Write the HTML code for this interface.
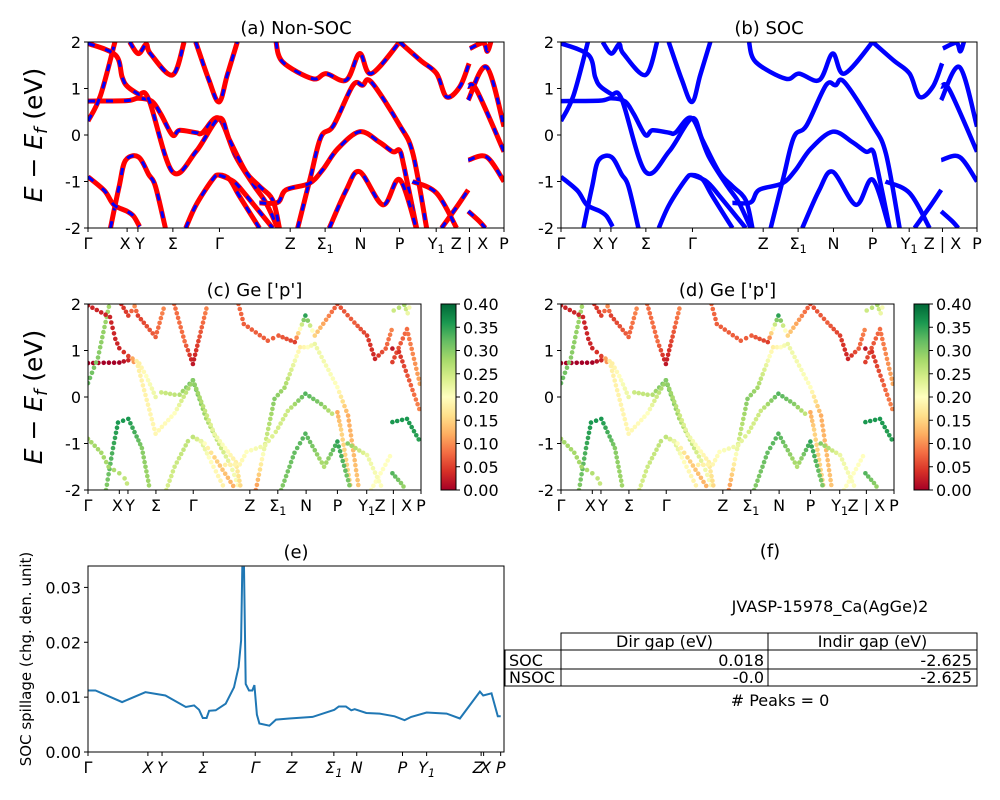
<!DOCTYPE html>
<html><head><meta charset="utf-8"><style>
html,body{margin:0;padding:0;background:#fff;}
svg{display:block;font-family:"DejaVu Sans","Liberation Sans",sans-serif;}
</style></head><body>
<svg id="fig" width="1000" height="800" viewBox="0 0 1000 800" xmlns="http://www.w3.org/2000/svg">
<defs>
<linearGradient id="rdylgn" x1="0" y1="1" x2="0" y2="0">
<stop offset="0" stop-color="#a50026"/><stop offset="0.1" stop-color="#d73027"/><stop offset="0.2" stop-color="#f46d43"/><stop offset="0.3" stop-color="#fdae61"/><stop offset="0.4" stop-color="#fee08b"/><stop offset="0.5" stop-color="#ffffbf"/><stop offset="0.6" stop-color="#d9ef8b"/><stop offset="0.7" stop-color="#a6d96a"/><stop offset="0.8" stop-color="#66bd63"/><stop offset="0.9" stop-color="#1a9850"/><stop offset="1" stop-color="#006837"/>
</linearGradient>
</defs>
</svg>
<script>
// ---- band structure data: [k (path fraction), E (eV)] ----
const kTickPos = [0,0.094,0.12,0.204,0.316,0.486,0.57,0.655,0.749,0.837,0.917,1];
const kTickLab = ["Γ","X","Y","Σ","Γ","Z","Σ1","N","P","Y1","Z | X","P"];
const bandA = [[0,0.73],[0.094,0.74],[0.121,0.79],[0.154,0.72],[0.175,0.45],[0.203,0.0],[0.22,0.1],[0.26,0.05],[0.275,0.05],[0.315,0.36],[0.355,-0.46],[0.4,-1.1],[0.428,-1.46],[0.456,-2.0]];
const bandB = [[0,0.3],[0.03,0.85],[0.066,2.05]];
const bandC = [[0,1.97],[0.066,1.72],[0.082,1.25],[0.094,1.05],[0.121,0.88],[0.146,0.77],[0.203,-0.79],[0.26,-0.35],[0.315,0.36],[0.34,-0.1],[0.38,-0.8],[0.412,-1.1],[0.444,-1.4],[0.46,-2.0]];
const bandD = [[0.054,-2],[0.075,-1.1],[0.09,-0.55],[0.121,-0.47],[0.146,-0.85],[0.162,-1.1],[0.186,-2]];
const bandE = [[0,-0.9],[0.04,-1.2],[0.062,-1.5],[0.094,-1.64],[0.11,-1.75],[0.124,-1.97]];
const bandF = [[0.235,-2],[0.26,-1.5],[0.3,-0.95],[0.315,-0.86],[0.34,-0.95],[0.363,-1.3],[0.412,-2]];
const bandF2 = [[0.315,-0.86],[0.35,-1.0],[0.38,-1.3],[0.444,-2]];
const bandG = [[0.259,2],[0.29,1.2],[0.315,0.71],[0.335,1.3],[0.359,2]];
const bandH = [[0.1,2],[0.121,1.75],[0.14,1.95],[0.15,1.75],[0.203,1.29],[0.231,2]];
const bandI = [[0.452,2],[0.468,1.57],[0.54,1.21],[0.572,1.32],[0.621,1.18],[0.653,1.75],[0.681,1.32],[0.749,2]];
const bandJ = [[0.504,-2],[0.535,-0.9],[0.56,-0.04],[0.59,0.2],[0.637,1.07],[0.66,1.07],[0.681,1.14],[0.749,0.21],[0.781,-0.4],[0.814,-2]];
const bandK = [[0.412,-1.46],[0.456,-1.45],[0.476,-1.18],[0.532,-1.04],[0.564,-0.75],[0.6,-0.3],[0.653,0.07],[0.7,-0.15],[0.733,-0.36],[0.749,-0.33],[0.76,-0.7],[0.79,-2]];
const bandL = [[0.58,-2],[0.62,-1.2],[0.653,-0.79],[0.709,-1.5],[0.749,-0.96],[0.789,-2]];
const bandM = [[0.749,2],[0.8,1.6],[0.838,1.32],[0.862,0.82],[0.894,1.04],[0.916,1.54]];
const bandM2 = [[0.918,1.86],[0.95,1.98],[0.96,1.8],[0.97,2.05]];
const bandN = [[0.914,0.75],[0.958,1.46],[1,0.18]];
const bandO = [[0.914,1.04],[0.934,0.97],[1,-0.36]];
const bandP = [[0.914,-0.54],[0.958,-0.47],[1,-1.0]];
const bandQ = [[0.85,-2],[0.886,-1.55],[0.914,-1.18]];
const bandR = [[0.78,-1.0],[0.838,-1.25],[0.886,-2]];
const bandS = [[0.914,-1.64],[0.94,-1.85],[0.955,-2]];
const bands = [bandA,bandB,bandC,bandD,bandE,bandF,bandF2,bandG,bandH,bandI,bandJ,bandK,bandL,bandM,bandM2,bandN,bandO,bandP,bandQ,bandR,bandS];
// Ge p-orbital projection weights per vertex
const wA = [0,0,0.03,0.18,0.2,0.22,0.25,0.26,0.27,0.33,0.28,0.25,0.22,0.2];
const wB = [0.32,0.3,0.28];
const wC = [0.03,0.03,0.03,0.03,0.05,0.18,0.19,0.2,0.3,0.27,0.22,0.2,0.18,0.15];
const wD = [0.3,0.34,0.36,0.36,0.33,0.3,0.28];
const wE = [0.28,0.28,0.28,0.27,0.26,0.25];
const wF = [0.24,0.25,0.26,0.27,0.24,0.2,0.18];
const wF2 = [0.26,0.2,0.15,0.12];
const wG = [0.08,0.08,0.02,0.06,0.1];
const wH = [0.04,0.05,0.1,0.05,0.07,0.1];
const wI = [0.08,0.07,0.07,0.07,0.05,0.35,0.15,0.06];
const wJ = [0.1,0.25,0.3,0.28,0.18,0.2,0.22,0.2,0.12,0.14];
const wK = [0.18,0.19,0.2,0.22,0.24,0.25,0.33,0.3,0.26,0.12,0.15,0.15];
const wL = [0.3,0.32,0.33,0.27,0.35,0.3];
const wM = [0.06,0.07,0.05,0.03,0.07,0.1];
const wM2 = [0.25,0.28,0.22,0.2];
const wN = [0.05,0.08,0.12];
const wO = [0.02,0.04,0.1];
const wP = [0.36,0.36,0.35];
const wQ = [0.2,0.2,0.2];
const wR = [0.3,0.22,0.2];
const wS = [0.33,0.3,0.28];
const weights = [wA,wB,wC,wD,wE,wF,wF2,wG,wH,wI,wJ,wK,wL,wM,wM2,wN,wO,wP,wQ,wR,wS];
// ---- SOC spillage (e) ----
const spK = [0,0.018,0.082,0.138,0.186,0.235,0.255,0.267,0.276,0.285,0.291,0.307,0.331,0.351,0.362,0.368,0.371,0.375,0.379,0.387,0.395,0.4,0.406,0.412,0.436,0.452,0.484,0.54,0.592,0.603,0.62,0.633,0.641,0.669,0.701,0.737,0.761,0.777,0.814,0.862,0.894,0.942,0.95,0.97,0.985,0.992];
const spV = [0.0112,0.0112,0.0091,0.0109,0.0103,0.0082,0.0085,0.0077,0.0062,0.0062,0.0075,0.0076,0.0088,0.0118,0.0155,0.0203,0.0336,0.0336,0.0124,0.0112,0.0112,0.0122,0.0068,0.0052,0.0048,0.0059,0.0061,0.0064,0.0077,0.0083,0.0083,0.0076,0.0078,0.0071,0.007,0.0065,0.0058,0.0064,0.0072,0.007,0.0061,0.011,0.0103,0.0107,0.0065,0.0065];
const spTickPos = [0,0.144,0.178,0.277,0.402,0.49,0.591,0.646,0.756,0.814,0.945,0.951,0.992];
const spTickLab = ["Γ","X","Y","Σ","Γ","Z","Σ1","N","P","Y1","Z","X","P"];
const spYTicks = [0,0.01,0.02,0.03];
const tableHead = ["Dir gap (eV)","Indir gap (eV)"];
const tableRows = [["SOC","0.018","-2.625"],["NSOC","-0.0","-2.625"]];

const NS="http://www.w3.org/2000/svg";
const fig=document.getElementById('fig');
function el(tag,attrs,parent){const e=document.createElementNS(NS,tag);for(const k in attrs)e.setAttribute(k,attrs[k]);(parent||fig).appendChild(e);return e;}
function label(parent,x,y,str,size,anchor,italic){
  const t=el('text',{x:x,y:y,'font-size':size,'text-anchor':anchor||'middle','fill':'#000'},parent);
  if(italic)t.setAttribute('font-style','italic');
  const m=str.match(/^(.*?)(\d)(.*)$/);
  if(m && /[ΣY]/.test(m[1])){t.appendChild(document.createTextNode(m[1]));const s=el('tspan',{'font-size':size*0.7,dy:4},t);s.textContent=m[2];if(m[3]){const r=el('tspan',{dy:-4},t);r.textContent=m[3];}}
  else t.textContent=str;
  return t;
}
function smoothPath(P){
  if(P.length<3)return 'M'+P.map(p=>p[0].toFixed(1)+','+p[1].toFixed(1)).join(' L');
  let d='M'+P[0][0].toFixed(1)+','+P[0][1].toFixed(1);
  for(let i=0;i<P.length-1;i++){
    const p0=P[Math.max(0,i-1)],p1=P[i],p2=P[i+1],p3=P[Math.min(P.length-1,i+2)];
    const c1=[p1[0]+(p2[0]-p0[0])/6,p1[1]+(p2[1]-p0[1])/6],c2=[p2[0]-(p3[0]-p1[0])/6,p2[1]-(p3[1]-p1[1])/6];
    d+=' C'+c1.map(v=>v.toFixed(1)).join(',')+' '+c2.map(v=>v.toFixed(1)).join(',')+' '+p2[0].toFixed(1)+','+p2[1].toFixed(1);
  }
  return d;
}
function cmap(v){const st=["#a50026","#d73027","#f46d43","#fdae61","#fee08b","#ffffbf","#d9ef8b","#a6d96a","#66bd63","#1a9850","#006837"];
  let f=Math.max(0,Math.min(1,v/0.4))*10;const i=Math.min(9,Math.floor(f));const r=f-i;
  const a=st[i],b=st[i+1];const c=n=>[parseInt(n.substr(1,2),16),parseInt(n.substr(3,2),16),parseInt(n.substr(5,2),16)];
  const A=c(a),B=c(b);return 'rgb('+A.map((x,j)=>Math.round(x+(B[j]-x)*r)).join(',')+')';}
let clipId=0;
function bandAxes(name,x0,y0,w,h,title,mode){
  const g=el('g',{});
  const X=k=>x0+k*w, Y=e=>y0+h-(e+2)/4*h;
  const cid='clip'+(clipId++);const cp=el('clipPath',{id:cid},g);el('rect',{x:x0,y:y0,width:w,height:h},cp);
  const plot=el('g',{'clip-path':'url(#'+cid+')'},g);
  bands.forEach((b,bi)=>{
    const d=smoothPath(b.map(p=>[X(p[0]),Y(p[1])]));
    if(mode==='a'){
      const l=el('path',{d:d,fill:'none',stroke:'#ff0000','stroke-width':5,'stroke-linejoin':'round'},plot);
      
      el('path',{d:d,fill:'none',stroke:'#0000ff','stroke-width':3,'stroke-dasharray':'7,11'},plot);
    }else if(mode==='b'){
      const l=el('path',{d:d,fill:'none',stroke:'#0000ff','stroke-width':4.5,'stroke-linejoin':'round'},plot);
      
    }else{
      const w8=weights[bi];
      for(let s=0;s<b.length-1;s++){
        const p=b[s],q=b[s+1];const len=Math.hypot(X(q[0])-X(p[0]),Y(q[1])-Y(p[1]));
        const n=Math.max(1,Math.round(len/5));
        for(let j=0;j<n;j++){const t=j/n;
          const c=el('circle',{cx:(X(p[0])+(X(q[0])-X(p[0]))*t).toFixed(1),cy:(Y(p[1])+(Y(q[1])-Y(p[1]))*t).toFixed(1),r:2.3,fill:cmap(w8[s]+(w8[s+1]-w8[s])*t)},plot);
          }
      }
    }
  });
  el('rect',{x:x0,y:y0,width:w,height:h,fill:'none',stroke:'#000','stroke-width':1},g);
  [-2,-1,0,1,2].forEach(v=>{el('line',{x1:x0-4,x2:x0,y1:Y(v),y2:Y(v),stroke:'#000'},g);label(g,x0-7,Y(v)+6,String(v),16,'end');});
  kTickPos.forEach((k,i)=>{el('line',{x1:X(k),x2:X(k),y1:y0+h,y2:y0+h+4,stroke:'#000'},g);label(g,X(k)+(kTickLab[i]==="X"?-2:kTickLab[i]==="Y"?2:0),y0+h+21,kTickLab[i],16,'middle');});
  const tt=el('text',{x:x0+w/2,y:y0-8,'font-size':18,'text-anchor':'middle'},g);tt.textContent=title;
  
}
function colorbar(name,x0,y0,h){
  const g=el('g',{});
  el('rect',{x:x0,y:y0,width:15,height:h,fill:'url(#rdylgn)',stroke:'#000'},g);
  for(let i=0;i<=8;i++){const v=i*0.05;const y=y0+h-v/0.4*h;el('line',{x1:x0+15,x2:x0+19,y1:y,y2:y,stroke:'#000'},g);label(g,x0+22,y+6,v.toFixed(2),16,'start');}
}
function ylab(x,y,size){const t=el('text',{transform:'translate('+x+','+y+') rotate(-90)','font-size':size,'text-anchor':'middle'});
  
  const a=el('tspan',{'font-style':'italic'},t);a.textContent='E';const b=el('tspan',{},t);b.textContent=' − ';
  const c=el('tspan',{'font-style':'italic'},t);c.textContent='E';const d=el('tspan',{'font-style':'italic','font-size':size*0.7,dy:5},t);d.textContent='f';
  const e=el('tspan',{dy:-5},t);e.textContent=' (eV)';}

bandAxes('panel-a-non-soc',88,42,416,186,'(a) Non-SOC','a');
bandAxes('panel-b-soc',561,42,416,186,'(b) SOC','b');
bandAxes('panel-c-ge-p',88,304,333,186,"(c)  Ge ['p']",'c');
bandAxes('panel-d-ge-p',561,304,333,186,"(d) Ge ['p']",'c');
colorbar('colorbar-c',441,304,186);
colorbar('colorbar-d',914,304,186);
ylab(42,135,25);ylab(42,397,25);

// panel e
(function(){
  const x0=88,y0=566,w=416,h=186,ymax=0.0339;
  const g=el('g',{});
  const X=k=>x0+k*w,Y=v=>y0+h-v/ymax*h;
  const cp=el('clipPath',{id:'clipE'},g);el('rect',{x:x0,y:y0,width:w,height:h},cp);
  const l=el('polyline',{points:spK.map((k,i)=>X(k).toFixed(1)+','+Y(spV[i]).toFixed(1)).join(' '),fill:'none',stroke:'#1f77b4','stroke-width':2,'clip-path':'url(#clipE)'},g);
  
  el('rect',{x:x0,y:y0,width:w,height:h,fill:'none',stroke:'#000'},g);
  spYTicks.forEach(v=>{el('line',{x1:x0-4,x2:x0,y1:Y(v),y2:Y(v),stroke:'#000'},g);label(g,x0-7,Y(v)+6,v.toFixed(2),16,'end');});
  spTickPos.forEach((k,i)=>{el('line',{x1:X(k),x2:X(k),y1:y0+h,y2:y0+h+4,stroke:'#000'},g);label(g,X(k)+(i===10?-3:i===11?2:0),y0+h+21,spTickLab[i],16,'middle',i>0);});
  const tt=el('text',{x:x0+w/2,y:y0-8,'font-size':18,'text-anchor':'middle'},g);tt.textContent='(e)';
  const yl=el('text',{transform:'translate(31,659) rotate(-90)','font-size':15,'text-anchor':'middle'},g);yl.textContent='SOC spillage (chg. den. unit)';
  
})();

// panel f table
(function(){
  const g=el('g',{});
  const t1=el('text',{x:770,y:557,'font-size':18,'text-anchor':'middle'},g);t1.textContent='(f)';
  const t2=el('text',{x:830,y:612,'font-size':16,'text-anchor':'middle'},g);t2.textContent='JVASP-15978_Ca(AgGe)2';
  const cols=[505,561,768,977],rows=[633,650,669,686];
  el('rect',{x:561,y:633,width:416,height:17,fill:'none',stroke:'#000'},g);
  el('line',{x1:768,x2:768,y1:633,y2:686,stroke:'#000'},g);
  tableHead.forEach((s,i)=>{const t=el('text',{x:(cols[i+1]+cols[i+2])/2,y:647,'font-size':16,'text-anchor':'middle'},g);t.textContent=s;});
  tableRows.forEach((r,ri)=>{const yt=rows[ri+1],yb=rows[ri+2];
    el('rect',{x:505,y:yt,width:472,height:yb-yt,fill:'none',stroke:'#000'},g);
    el('line',{x1:561,x2:561,y1:yt,y2:yb,stroke:'#000'},g);
    const a=el('text',{x:509,y:yb-3,'font-size':16},g);a.textContent=r[0];
    const b=el('text',{x:764,y:yb-3,'font-size':16,'text-anchor':'end'},g);b.textContent=r[1];
    const c=el('text',{x:972,y:yb-3,'font-size':16,'text-anchor':'end'},g);c.textContent=r[2];});
  const t3=el('text',{x:780,y:706,'font-size':16,'text-anchor':'middle'},g);t3.textContent='# Peaks = 0';
})();
</script>
</body></html>
